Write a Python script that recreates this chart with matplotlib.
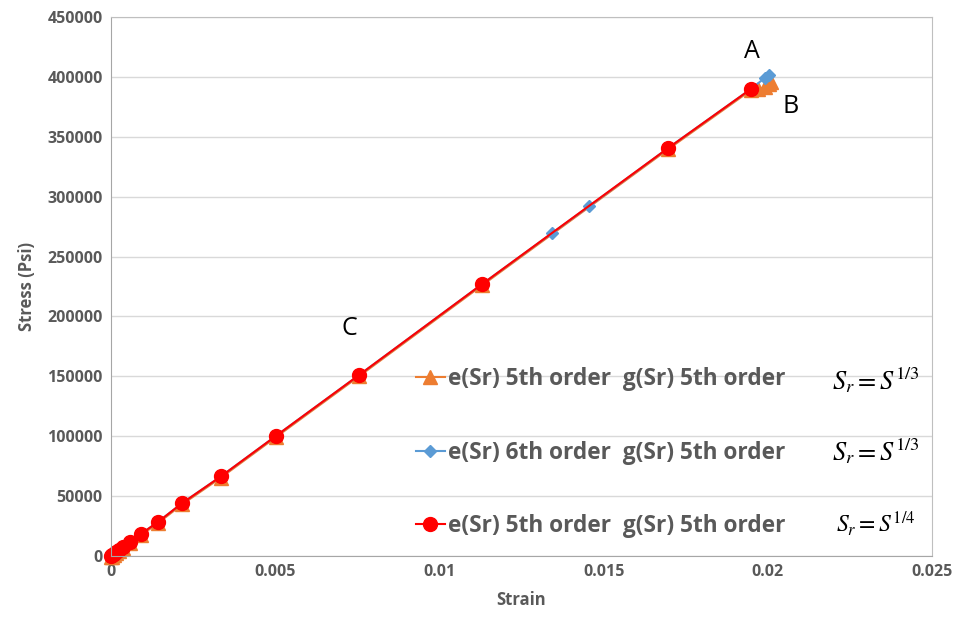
import matplotlib.pyplot as plt

# strain / stress values
strain_red = [0, 0.00003, 0.00008, 0.00015, 0.00025, 0.00036, 0.00058, 0.00091, 0.00143,
              0.00216, 0.00335, 0.00502, 0.00755, 0.0113, 0.01696, 0.01949]
stress_red = [0, 600, 1800, 3300, 5200, 7600, 11700, 18400, 28400,
              44000, 66500, 100200, 151000, 227000, 340500, 390000]

strain_orange = [0, 0.00003, 0.00008, 0.00015, 0.00025, 0.00036, 0.00058, 0.00091, 0.00143,
                 0.00216, 0.00335, 0.00502, 0.00755, 0.0113, 0.01696, 0.01949, 0.0197,
                 0.0199, 0.02005, 0.0201]
stress_orange = [-1200, -600, 800, 2300, 4200, 6600, 10700, 17400, 27400,
                 43000, 65500, 99200, 150000, 226000, 339500, 389000, 389500,
                 391500, 394000, 396000]

strain_blue = [0, 0.00003, 0.00008, 0.00015, 0.00025, 0.00036, 0.00058, 0.00091, 0.00143,
               0.00216, 0.00335, 0.00502, 0.00755, 0.0113, 0.01343, 0.01456, 0.01696,
               0.01949, 0.0199, 0.02004]
stress_blue = [0, 600, 1800, 3300, 5200, 7600, 11700, 18400, 28400,
               44000, 66500, 100200, 151000, 227000, 269600, 292100, 340500,
               390000, 399000, 401500]

labels = ['e(Sr) 5th order  g(Sr) 5th order',
          'e(Sr) 6th order  g(Sr) 5th order',
          'e(Sr) 5th order  g(Sr) 5th order']
formulas = [r'$S_r = S^{1/3}$', r'$S_r = S^{1/3}$', r'$S_r = S^{1/4}$']

plt.rcParams['font.family'] = ['Open Sans', 'DejaVu Sans']
plt.rcParams['mathtext.fontset'] = 'stix'
gray = '#595959'

fig = plt.figure(figsize=(9.58, 6.19), dpi=100)
ax = fig.add_axes([0.1159, 0.1018, 0.857, 0.8707])

l1, = ax.plot(strain_orange, stress_orange, color='#ed7d31', marker='^', ms=10, lw=1.5, clip_on=False)
l2, = ax.plot(strain_blue, stress_blue, color='#5b9bd5', marker='D', ms=6, lw=1.5, clip_on=False)
l3, = ax.plot(strain_red, stress_red, color='#ff0000', marker='o', ms=10, lw=1.5, clip_on=False)

ax.set_xlim(0, 0.025)
ax.set_ylim(0, 450000)
ax.set_xticks([0, 0.005, 0.01, 0.015, 0.02, 0.025])
ax.set_xticklabels(['0', '0.005', '0.01', '0.015', '0.02', '0.025'])
ax.set_yticks(range(0, 450001, 50000))
ax.grid(axis='y', color='#d9d9d9', lw=1)
ax.set_axisbelow(True)
ax.tick_params(length=0, labelsize=11.5, labelcolor=gray, pad=6)
for lab in ax.get_xticklabels() + ax.get_yticklabels():
    lab.set_fontweight('bold')
for s in ['top', 'right']:
    ax.spines[s].set_color('#bfbfbf')
for s in ['left', 'bottom']:
    ax.spines[s].set_color('#a6a6a6')

ax.set_xlabel('Strain', fontsize=12, fontweight='bold', color=gray, labelpad=8)
ax.set_ylabel('Stress (Psi)', fontsize=12, fontweight='bold', color=gray, labelpad=8)

leg = ax.legend([l1, l2, l3], labels, loc='upper left', bbox_to_anchor=(0.36, 0.368),
                frameon=False, prop={'size': 16.3, 'weight': 'bold'}, labelspacing=2.2,
                handlelength=1.3, handletextpad=0.15, borderaxespad=0)
for t in leg.get_texts():
    t.set_color(gray)

ypos = [0.3265, 0.193, 0.061]
for f, y in zip(formulas, ypos):
    ax.text(0.932, y, f, transform=ax.transAxes, fontsize=19 if y > 0.1 else 17,
            ha='center', va='center', color='black')

ax.text(0.0195, 421000, 'A', fontsize=18, ha='center', va='center')
ax.text(0.0207, 375000, 'B', fontsize=18, ha='center', va='center')
ax.text(0.00725, 190000, 'C', fontsize=18, ha='center', va='center')

fig.savefig('out.png', dpi=100)
